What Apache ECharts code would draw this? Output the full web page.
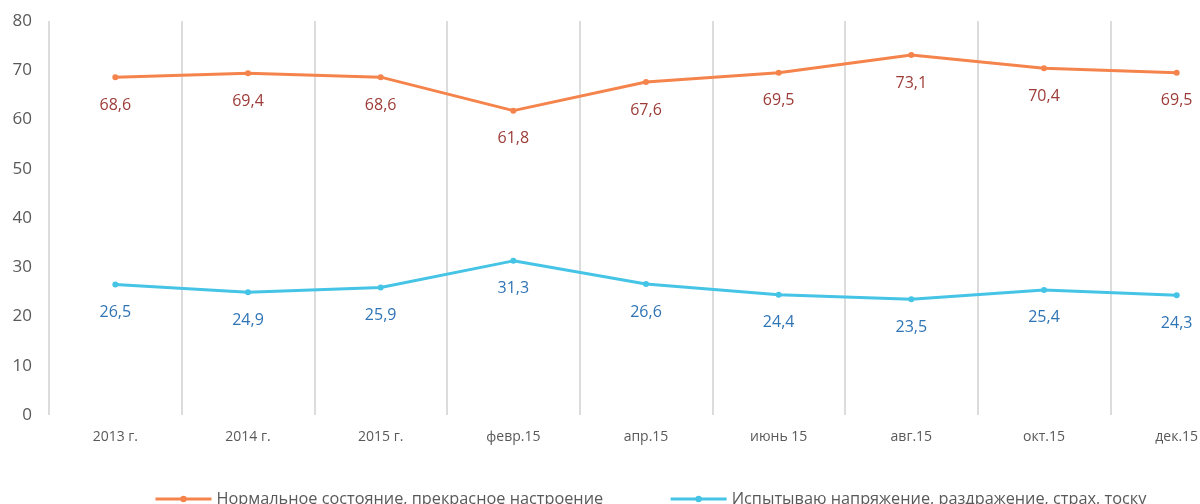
<!DOCTYPE html>
<html><head><meta charset="utf-8">
<script src="https://cdn.jsdelivr.net/npm/echarts@6/dist/echarts.min.js"></script>
<style>html,body{margin:0;padding:0;background:#fff}#c{width:1200px;height:504px}</style>
</head><body><div id="c"></div>
<script>
const categories = ['2013 г.', '2014 г.', '2015 г.', 'февр.15', 'апр.15', 'июнь 15', 'авг.15', 'окт.15', 'дек.15'];
const normalValues = [68.6, 69.4, 68.6, 61.8, 67.6, 69.5, 73.1, 70.4, 69.5];
const stressValues = [26.5, 24.9, 25.9, 31.3, 26.6, 24.4, 23.5, 25.4, 24.3];
const seriesNames = ['Нормальное состояние, прекрасное настроение', 'Испытываю напряжение, раздражение, страх, тоску'];

const fmt = p => String(p.value).replace('.', ',');
const font = '"Open Sans", "Noto Sans", sans-serif';
const chart = echarts.init(document.getElementById('c'));
chart.setOption({
  animation: false,
  textStyle: { fontFamily: font },
  grid: { left: 49, top: 21, height: 394, width: 1194, outerBoundsMode: 'none', containLabel: false },
  legend: {
    top: 486, left: 149, itemWidth: 56, itemHeight: 8, itemGap: 66,
    lineStyle: { width: 3 },
    textStyle: { fontSize: 16.3, color: '#595959', fontFamily: font },
    data: seriesNames
  },
  xAxis: {
    type: 'category', data: categories, boundaryGap: true,
    axisLine: { show: false }, axisTick: { show: false },
    axisLabel: { fontSize: 14, color: '#595959', margin: 15, fontFamily: font },
    splitLine: { show: true, lineStyle: { color: '#d0d0d0', width: 1.5 } }
  },
  yAxis: {
    type: 'value', min: 0, max: 80, interval: 10,
    axisLine: { show: false }, axisTick: { show: false },
    splitLine: { show: false },
    axisLabel: { fontSize: 17, color: '#595959', margin: 17, fontFamily: font }
  },
  series: [
    {
      name: seriesNames[0], type: 'line', data: normalValues,
      symbol: 'circle', symbolSize: 6,
      itemStyle: { color: '#f5844c' }, lineStyle: { color: '#f5844c', width: 3 },
      label: { show: true, position: 'bottom', distance: 17, formatter: fmt, fontSize: 16, color: '#9c3b37', fontFamily: font }
    },
    {
      name: seriesNames[1], type: 'line', data: stressValues,
      symbol: 'circle', symbolSize: 6,
      itemStyle: { color: '#45c4e6' }, lineStyle: { color: '#45c4e6', width: 3 },
      label: { show: true, position: 'bottom', distance: 17, formatter: fmt, fontSize: 16, color: '#2f74b5', fontFamily: font }
    }
  ]
});
</script></body></html>
